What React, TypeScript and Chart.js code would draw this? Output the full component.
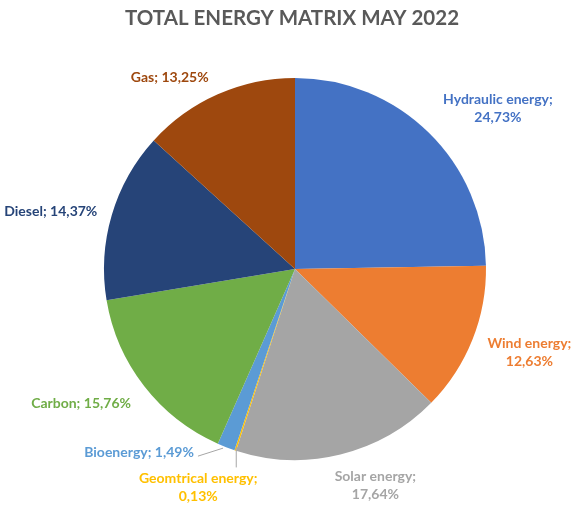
import React, { useEffect, useRef } from "react";
import { Chart, registerables } from "chart.js";

Chart.register(...registerables);

const categories = [
  "Hydraulic energy",
  "Wind energy",
  "Solar energy",
  "Geomtrical energy",
  "Bioenergy",
  "Carbon",
  "Diesel",
  "Gas",
];
const shares = [24.73, 12.63, 17.64, 0.13, 1.49, 15.76, 14.37, 13.25];
const sliceColors = [
  "#4472C4",
  "#ED7D31",
  "#A5A5A5",
  "#FFC000",
  "#5B9BD5",
  "#70AD47",
  "#264478",
  "#9E480E",
];
const titleText = "TOTAL ENERGY MATRIX MAY 2022";

// label placement relative to the slice's outer mid point
const labelOffsets: [number, number][] = [
  [69, -24],
  [57, 13],
  [35, 31],
  [-37, 37],
  [-87, 5],
  [-63, 17],
  [-61, -3],
  [-48, -17],
];
const twoLine = [true, true, true, true, false, false, false, false];
const leader: (null | "right" | "top")[] = [null, null, null, "top", "right", null, null, null];

const FONT = "Lato, 'Open Sans', sans-serif";

const labelPlugin = {
  id: "sliceLabels",
  afterDraw(chart: any) {
    const ctx = chart.ctx;
    const meta = chart.getDatasetMeta(0);
    // title
    ctx.save();
    ctx.fillStyle = "#595959";
    ctx.font = `bold 20.5px ${FONT}`;
    ctx.textAlign = "center";
    ctx.textBaseline = "middle";
    ctx.fillText(titleText, 292, 18);
    ctx.restore();

    meta.data.forEach((arc: any, i: number) => {
      const { x, y, startAngle, endAngle, outerRadius } = arc.getProps(
        ["x", "y", "startAngle", "endAngle", "outerRadius"],
        true
      );
      const mid = (startAngle + endAngle) / 2;
      const px = x + Math.cos(mid) * outerRadius;
      const py = y + Math.sin(mid) * outerRadius;
      const lx = px + labelOffsets[i][0];
      const ly = py + labelOffsets[i][1];
      const val = shares[i].toFixed(2).replace(".", ",") + "%";
      ctx.save();
      ctx.font = `bold 14px ${FONT}`;
      ctx.fillStyle = sliceColors[i];
      ctx.textAlign = "center";
      ctx.textBaseline = "middle";
      let lines: string[];
      if (twoLine[i]) lines = [categories[i] + ";", val];
      else lines = [categories[i] + "; " + val];
      const lh = 18;
      const top = ly - ((lines.length - 1) * lh) / 2;
      lines.forEach((t, k) => ctx.fillText(t, lx, top + k * lh));
      if (leader[i]) {
        ctx.strokeStyle = "#A6A6A6";
        ctx.lineWidth = 1;
        ctx.beginPath();
        if (leader[i] === "right") {
          const w = ctx.measureText(lines[0]).width;
          ctx.moveTo(px - 3, py + 1);
          ctx.lineTo(lx + w / 2 + 4, ly + 4);
        } else {
          ctx.moveTo(px + 1, py - 3);
          ctx.lineTo(px + 1, top - 11);
        }
        ctx.stroke();
      }
      ctx.restore();
    });
  },
};

export default function App() {
  const ref = useRef<HTMLCanvasElement | null>(null);
  useEffect(() => {
    document.body.style.margin = "0";
    const chart = new Chart(ref.current as HTMLCanvasElement, {
      type: "pie",
      data: {
        labels: categories,
        datasets: [
          {
            data: shares,
            backgroundColor: sliceColors,
            borderWidth: 0,
          },
        ],
      },
      options: {
        animation: false,
        responsive: false,
        layout: { padding: { left: 104, right: 87, top: 78, bottom: 52 } },
        plugins: {
          legend: { display: false },
          title: { display: false },
          tooltip: { enabled: false },
        },
      },
      plugins: [labelPlugin],
    });
    return () => chart.destroy();
  }, []);
  return (
    <div style={{ width: 573, height: 512, background: "#fff" }}>
      <canvas ref={ref} width={573} height={512} />
    </div>
  );
}
